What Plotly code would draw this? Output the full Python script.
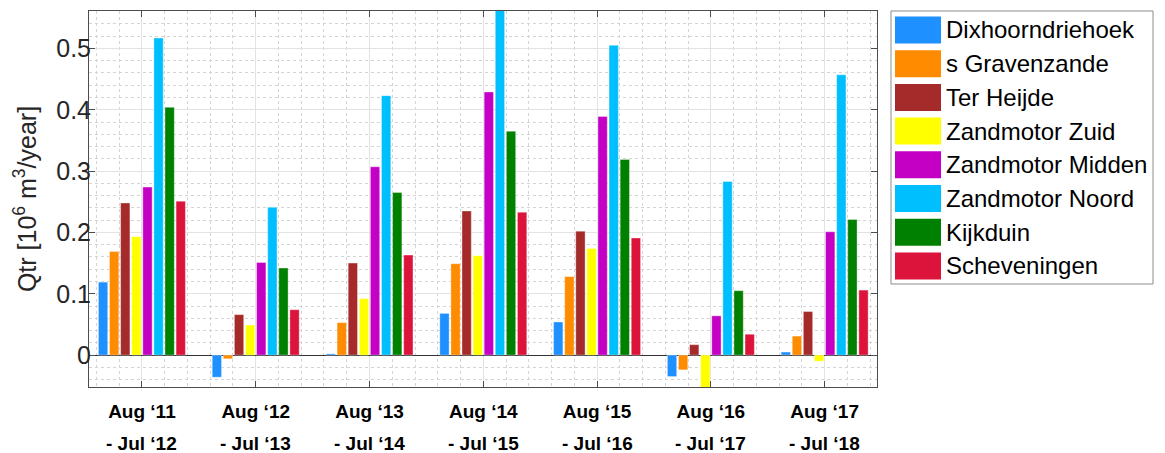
import plotly.graph_objects as go

periods_top = ["Aug \u201811", "Aug \u201812", "Aug \u201813", "Aug \u201814", "Aug \u201815", "Aug \u201816", "Aug \u201817"]
periods_bottom = ["- Jul \u201812", "- Jul \u201813", "- Jul \u201814", "- Jul \u201815", "- Jul \u201816", "- Jul \u201817", "- Jul \u201818"]
x_pos = [1, 2, 3, 4, 5, 6, 7]

sections = ["Dixhoorndriehoek", "s Gravenzande", "Ter Heijde", "Zandmotor Zuid",
            "Zandmotor Midden", "Zandmotor Noord", "Kijkduin", "Scheveningen"]
colors = ["#1E90FF", "#FF8C00", "#A52A2A", "#FFFF00", "#C400C4", "#00BFFF", "#008000", "#DC143C"]

dixhoorndriehoek = [0.119, -0.036, 0.002, 0.068, 0.054, -0.035, 0.005]
s_gravenzande = [0.169, -0.006, 0.053, 0.149, 0.128, -0.024, 0.031]
ter_heijde = [0.248, 0.066, 0.150, 0.235, 0.202, 0.017, 0.071]
zandmotor_zuid = [0.193, 0.049, 0.092, 0.162, 0.174, -0.060, -0.010]
zandmotor_midden = [0.274, 0.151, 0.307, 0.429, 0.389, 0.064, 0.201]
zandmotor_noord = [0.517, 0.241, 0.423, 0.580, 0.505, 0.283, 0.457]
kijkduin = [0.404, 0.142, 0.265, 0.365, 0.319, 0.105, 0.221]
scheveningen = [0.251, 0.074, 0.163, 0.233, 0.191, 0.034, 0.106]

series = [dixhoorndriehoek, s_gravenzande, ter_heijde, zandmotor_zuid,
          zandmotor_midden, zandmotor_noord, kijkduin, scheveningen]

FONT = "Arial, 'Liberation Sans', sans-serif"
W, H = 1165, 453
L, R, T, B = 89, 877, 11, 387  # plot area in px

fig = go.Figure()
for name, vals, col in zip(sections, series, colors):
    fig.add_trace(go.Bar(
        x=x_pos, y=vals, name=name,
        marker=dict(color=col, line=dict(width=0.6, color="rgba(255,255,255,0.6)")),
        showlegend=False,
    ))

fig.update_layout(
    width=W, height=H,
    margin=dict(l=L, r=W - R, t=T, b=H - B, autoexpand=False),
    paper_bgcolor="white", plot_bgcolor="white",
    barmode="group", bargap=0.22, bargroupgap=0.16,
    font=dict(family=FONT, color="#262626"),
)

fig.update_xaxes(
    automargin=False,
    range=[0.535, 7.46],
    tickvals=x_pos, ticktext=periods_top,
    tickfont=dict(size=19, family=FONT, color="black", weight="bold"),
    ticks="inside", ticklen=6, tickcolor="#4d4d4d", ticklabelstandoff=7,
    showline=True, linecolor="#4d4d4d", linewidth=1, mirror="ticks",
    showgrid=True, gridcolor="#e3e3e3", gridwidth=1,
    minor=dict(dtick=0.2, tick0=0, showgrid=True, gridcolor="#d4d4d4", griddash="dot", ticks=""),
    zeroline=False,
)
fig.update_yaxes(
    automargin=False,
    range=[-0.052, 0.561],
    tickvals=[0, 0.1, 0.2, 0.3, 0.4, 0.5], ticktext=["0", "0.1", "0.2", "0.3", "0.4", "0.5"],
    tickfont=dict(size=25, family=FONT, color="#262626"),
    ticks="inside", ticklen=6, tickcolor="#4d4d4d", ticklabelstandoff=-8,
    showline=True, linecolor="#4d4d4d", linewidth=1, mirror="ticks",
    showgrid=True, gridcolor="#e3e3e3", gridwidth=1,
    minor=dict(dtick=0.02, tick0=0, showgrid=True, gridcolor="#d4d4d4", griddash="dot", ticks=""),
    zeroline=True, zerolinecolor="#333333", zerolinewidth=1,
    title=dict(text="Qtr [10<sup>6</sup> m<sup>3</sup>/year]", font=dict(size=25, family=FONT, color="#262626"), standoff=12),
)

# second line of the period labels
for xv, txt in zip(x_pos, periods_bottom):
    fig.add_annotation(
        x=xv, y=-(443 - B) / (B - T), xref="x", yref="paper",
        text=txt, showarrow=False, xanchor="center", yanchor="middle",
        font=dict(size=19, family=FONT, color="black", weight="bold"),
    )

# legend box drawn to match the original large swatches
pw, ph = R - L, B - T
def px_x(v):
    return (v - L) / pw
def px_y(v):
    return (B - v) / ph

fig.add_shape(type="rect", xref="paper", yref="paper",
              x0=px_x(891), x1=px_x(1153), y0=px_y(11), y1=px_y(284),
              line=dict(color="#8c8c8c", width=1), fillcolor="white")
for i, (name, col) in enumerate(zip(sections, colors)):
    top = 16.5 + i * 33.7
    fig.add_shape(type="rect", xref="paper", yref="paper",
                  x0=px_x(895), x1=px_x(941), y0=px_y(top), y1=px_y(top + 27),
                  line=dict(width=0), fillcolor=col)
    fig.add_annotation(x=px_x(944), y=px_y(top + 13.5), xref="paper", yref="paper",
                       text=name, showarrow=False, xanchor="left", yanchor="middle",
                       font=dict(size=24, family=FONT, color="black"))

fig.write_html("out.html", config={"displayModeBar": False},
               post_script="document.body.style.margin='0px';")
